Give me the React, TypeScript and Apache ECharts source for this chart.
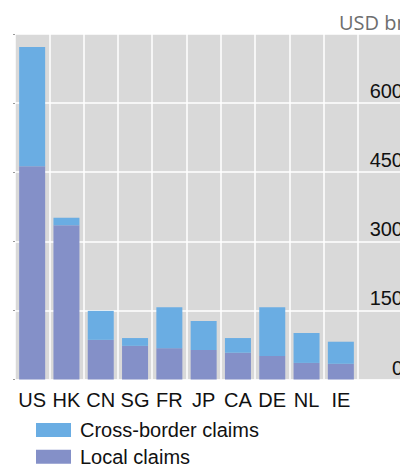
import React, { useEffect, useRef } from "react";
import * as echarts from "echarts";

const categories = ["US", "HK", "CN", "SG", "FR", "JP", "CA", "DE", "NL", "IE"];
const localClaims = [463, 335, 86, 73, 68, 64, 58, 51, 36, 34];
const crossBorderClaims = [259, 16, 63, 17, 89, 63, 32, 106, 65, 48];
const yTicks = [0, 150, 300, 450, 600, 750];
const unitLabel = "USD bn";

const FONT = "'Liberation Sans', Arial, sans-serif";

export default function App() {
  const ref = useRef<HTMLDivElement>(null);

  useEffect(() => {
    document.body.style.margin = "0";
    if (!ref.current) return;
    const chart = echarts.init(ref.current, null, { renderer: "svg" });
    const yMin = yTicks[0];
    const yMax = yTicks[yTicks.length - 1];
    const yInt = yTicks[1] - yTicks[0];
    chart.setOption({
      animation: false,
      title: {
        text: unitLabel,
        left: 339,
        top: 12,
        padding: 0,
        textStyle: {
          fontSize: 20,
          fontWeight: "normal",
          color: "#6e6e6e",
          fontFamily: "'Open Sans', sans-serif",
        },
      },
      legend: {
        orient: "vertical",
        left: 36,
        top: 420,
        height: 100,
        padding: 0,
        itemWidth: 35,
        itemHeight: 14,
        itemGap: 6.7,
        icon: "rect",
        data: ["Cross-border claims", "Local claims"],
        textStyle: {
          fontSize: 20,
          color: "#111",
          fontFamily: FONT,
          padding: [0, 0, 0, 4],
        },
      },
      grid: [
        {
          left: 15,
          right: 42,
          top: 34,
          bottom: 84.5,
          show: false,
          containLabel: false,
          outerBoundsMode: "none",
        },
        {
          left: 15,
          right: -40,
          top: 34,
          bottom: 84.5,
          show: true,
          backgroundColor: "#d9d9d9",
          borderWidth: 0,
          containLabel: false,
          outerBoundsMode: "none",
        },
      ],
      xAxis: [
        {
          type: "category",
          gridIndex: 0,
          data: categories,
          axisLine: { show: false },
          axisTick: { show: false },
          axisLabel: {
            interval: 0,
            margin: 10,
            fontSize: 20,
            color: "#111",
            fontFamily: FONT,
          },
          splitLine: {
            show: true,
            interval: 0,
            lineStyle: { color: "#ffffff", width: 1.5 },
          },
        },
        { type: "value", gridIndex: 1, show: false, min: 0, max: 1 },
      ],
      yAxis: [
        {
          type: "value",
          gridIndex: 0,
          position: "left",
          min: yMin,
          max: yMax,
          interval: yInt,
          axisLine: { show: false },
          axisTick: { show: true, length: 2, lineStyle: { color: "#999" } },
          axisLabel: { show: false },
          splitLine: { show: false },
        },
        {
          type: "value",
          gridIndex: 0,
          position: "right",
          min: yMin,
          max: yMax,
          interval: yInt,
          axisLine: { show: false },
          axisTick: { show: false },
          splitLine: { show: false },
          axisLabel: {
            show: true,
            align: "right",
            verticalAlign: "bottom",
            lineHeight: 24,
            margin: 45,
            fontSize: 20,
            color: "#111",
            fontFamily: FONT,
            formatter: (v: number) => (v === yMax ? "" : String(v)),
          },
        },
        {
          type: "value",
          gridIndex: 1,
          min: yMin,
          max: yMax,
          interval: yInt,
          axisLine: { show: false },
          axisTick: { show: false },
          axisLabel: { show: false },
          splitLine: { show: true, lineStyle: { color: "#ffffff", width: 1.5 } },
        },
      ],
      series: [
        {
          name: "Local claims",
          type: "bar",
          stack: "total",
          xAxisIndex: 0,
          yAxisIndex: 0,
          barWidth: 26,
          itemStyle: { color: "#8490c8" },
          data: localClaims,
        },
        {
          name: "Cross-border claims",
          type: "bar",
          stack: "total",
          xAxisIndex: 0,
          yAxisIndex: 0,
          barWidth: 26,
          itemStyle: { color: "#6aade3" },
          data: crossBorderClaims,
        },
      ],
    });
    return () => chart.dispose();
  }, []);

  return <div ref={ref} style={{ width: 400, height: 464 }} />;
}
